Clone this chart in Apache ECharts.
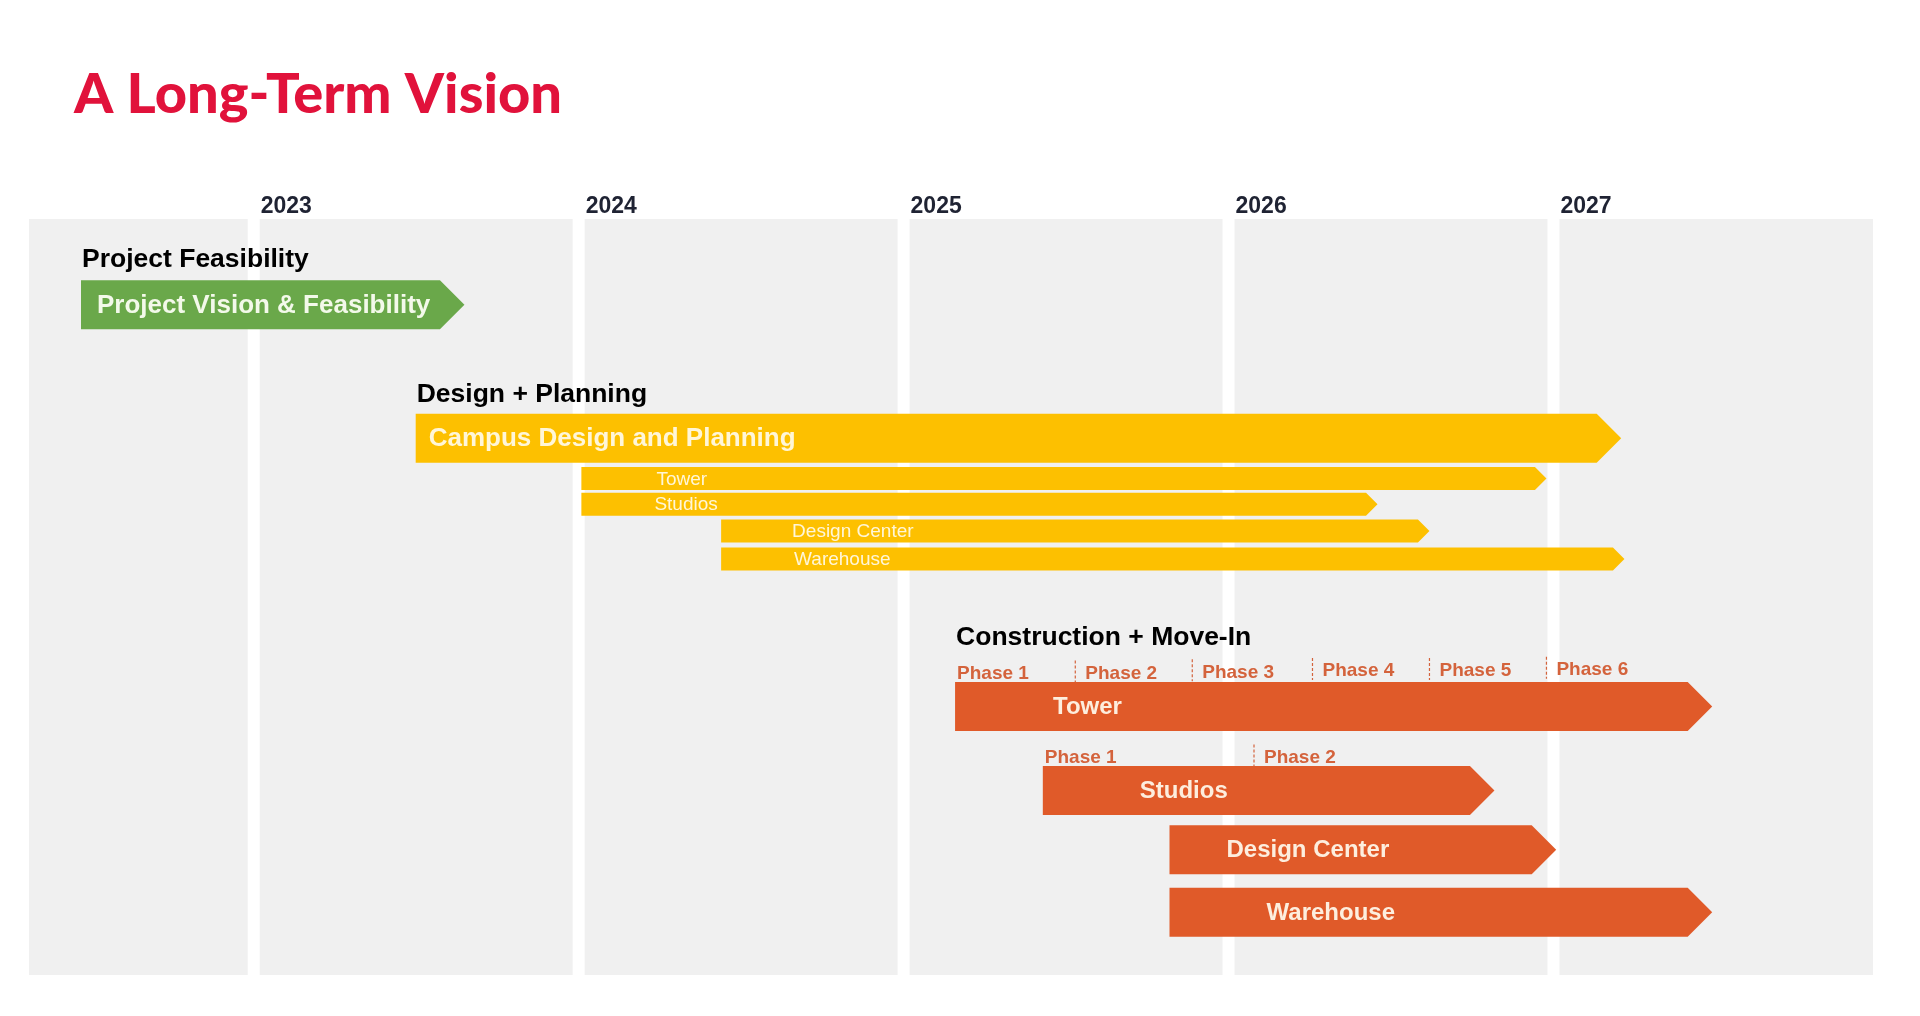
<!DOCTYPE html>
<html>
<head>
<meta charset="utf-8">
<title>A Long-Term Vision</title>
<script src="https://cdn.jsdelivr.net/npm/echarts@6/dist/echarts.min.js"></script>
<style>
    html, body {
        margin: 0;
        padding: 0;
        background: #ffffff;
    }
    #my_chart {
        width: 1920px;
        height: 1016px;
    }
</style>
</head>
<body>
<div id="my_chart"></div>
<script>
    // timeline columns (one per year) and the visible range in years
    var years = [2023, 2024, 2025, 2026, 2027];
    var rangeStart = 2022.29;
    var rangeEnd = 2027.965;

    // stage headings
    var stageNames = ['Project Feasibility', 'Design + Planning', 'Construction + Move-In'];
    var stageStart = [2022.45, 2023.48, 2025.14];
    var stageRow = [1.63, 6.98, 16.63];

    // bars: start / end (tip) in years, row on the lane axis
    var barNames = ['Project Vision & Feasibility', 'Campus Design and Planning',
        'Tower', 'Studios', 'Design Center', 'Warehouse',
        'Tower', 'Studios', 'Design Center', 'Warehouse'];
    var barStart = [2022.45, 2023.48, 2023.99, 2023.99, 2024.42, 2024.42, 2025.14, 2025.41, 2025.80, 2025.80];
    var barEnd = [2023.63, 2027.19, 2026.96, 2026.44, 2026.60, 2027.20, 2027.47, 2026.80, 2026.99, 2027.47];
    var barRow = [3.40, 8.70, 10.30, 11.32, 12.38, 13.49, 19.35, 22.68, 25.03, 27.51];
    var barStage = [0, 1, 1, 1, 1, 1, 2, 2, 2, 2];
    var barMain = [1, 1, 0, 0, 0, 0, 1, 1, 1, 1];

    // construction phases
    var phaseNames = ['Phase 1', 'Phase 2', 'Phase 3', 'Phase 4', 'Phase 5', 'Phase 6', 'Phase 1', 'Phase 2'];
    var phaseStart = [2025.14, 2025.51, 2025.87, 2026.24, 2026.60, 2026.96, 2025.41, 2026.06];
    var phaseRow = [18.0, 18.0, 17.95, 17.9, 17.9, 17.85, 21.33, 21.33];

    // styles
    var FONT = "'Liberation Sans', Arial, Helvetica, sans-serif";
    var stageColors = ['#6aa84a', '#fdc000', '#e05a29'];
    var stageText = ['#f3f9ea', '#fff6d8', '#fdeede'];
    var labelInset = [16, 13, 75, 73, 71, 73, 98, 97, 57, 97];
    var mainHeight = 49;
    var subHeight = 23;
    var bandGap = 12;
    var laneMax = 30;

    var bandData = [[rangeStart, years[0]]];
    for (var i = 0; i < years.length; i++) {
        bandData.push([years[i], i + 1 < years.length ? years[i + 1] : rangeEnd + bandGap / 325]);
    }
    var barData = barNames.map(function (n, i) {
        return [barStart[i], barEnd[i], barRow[i]];
    });
    var stageData = stageNames.map(function (n, i) {
        return [stageStart[i], stageRow[i]];
    });
    var phaseData = phaseNames.map(function (n, i) {
        return [phaseStart[i], phaseRow[i]];
    });

    var myChart = echarts.init(document.getElementById('my_chart'));
    var option = {
        animation: false,
        backgroundColor: '#ffffff',
        title: {
            text: 'A Long-Term Vision',
            left: 69,
            top: 62,
            textStyle: {
                fontFamily: "Lato, 'Liberation Sans', sans-serif",
                fontSize: 56,
                fontWeight: 900,
                color: '#e1123b'
            }
        },
        grid: {
            left: 29,
            right: 47,
            top: 219,
            bottom: 41
        },
        xAxis: {
            type: 'value',
            min: rangeStart,
            max: rangeEnd,
            show: false
        },
        yAxis: {
            type: 'value',
            min: 0,
            max: laneMax,
            inverse: true,
            show: false
        },
        series: [
            {
                name: 'years',
                type: 'custom',
                silent: true,
                data: bandData,
                renderItem: function (params, api) {
                    var a = api.coord([api.value(0), 0]);
                    var b = api.coord([api.value(1), laneMax]);
                    var children = [{
                        type: 'rect',
                        shape: { x: a[0], y: a[1], width: b[0] - a[0] - bandGap, height: b[1] - a[1] },
                        style: { fill: '#f0f0f0' }
                    }];
                    if (params.dataIndex > 0) {
                        children.push({
                            type: 'text',
                            x: a[0] + 1,
                            y: a[1] - 1,
                            style: {
                                text: String(years[params.dataIndex - 1]),
                                fontFamily: FONT,
                                fontSize: 23,
                                fontWeight: 'bold',
                                fill: '#1f2333',
                                verticalAlign: 'bottom'
                            }
                        });
                    }
                    return { type: 'group', children: children };
                }
            },
            {
                name: 'stages',
                type: 'custom',
                silent: true,
                data: stageData,
                renderItem: function (params, api) {
                    var p = api.coord([api.value(0), api.value(1)]);
                    return {
                        type: 'text',
                        x: p[0] + 1,
                        y: p[1],
                        style: {
                            text: stageNames[params.dataIndex],
                            fontFamily: FONT,
                            fontSize: 26.5,
                            fontWeight: 'bold',
                            fill: '#000000',
                            verticalAlign: 'middle'
                        }
                    };
                }
            },
            {
                name: 'bars',
                type: 'custom',
                silent: true,
                data: barData,
                renderItem: function (params, api) {
                    var k = params.dataIndex;
                    var s = api.coord([api.value(0), api.value(2)]);
                    var e = api.coord([api.value(1), api.value(2)]);
                    var h = barMain[k] ? mainHeight : subHeight;
                    var d = h / 2;
                    var top = s[1] - h / 2;
                    var bot = s[1] + h / 2;
                    var st = barStage[k];
                    return {
                        type: 'group',
                        children: [
                            {
                                type: 'polygon',
                                shape: { points: [[s[0], top], [e[0] - d, top], [e[0], s[1]], [e[0] - d, bot], [s[0], bot]] },
                                style: { fill: stageColors[st] }
                            },
                            {
                                type: 'text',
                                x: s[0] + labelInset[k],
                                y: s[1] + 1,
                                style: {
                                    text: barNames[k],
                                    fontFamily: FONT,
                                    fontSize: barMain[k] ? (st == 2 ? 24 : 26) : 19,
                                    fontWeight: barMain[k] ? 'bold' : 'normal',
                                    fill: stageText[st],
                                    verticalAlign: 'middle'
                                }
                            }
                        ]
                    };
                }
            },
            {
                name: 'phases',
                type: 'custom',
                silent: true,
                data: phaseData,
                renderItem: function (params, api) {
                    var k = params.dataIndex;
                    var p = api.coord([api.value(0), api.value(1)]);
                    var first = phaseNames[k] == 'Phase 1';
                    var children = [{
                        type: 'text',
                        x: p[0] + (first ? 2 : 10),
                        y: p[1] + 1,
                        style: {
                            text: phaseNames[k],
                            fontFamily: FONT,
                            fontSize: 19,
                            fontWeight: 'bold',
                            fill: '#d4633c',
                            verticalAlign: 'middle'
                        }
                    }];
                    if (!first) {
                        children.push({
                            type: 'line',
                            shape: { x1: p[0], y1: p[1] - 12, x2: p[0], y2: p[1] + 10 },
                            style: { stroke: '#d4633c', lineWidth: 1.2, lineDash: [3, 2] }
                        });
                    }
                    return { type: 'group', children: children };
                }
            }
        ]
    };

    myChart.setOption(option);
</script>
</body>
</html>
